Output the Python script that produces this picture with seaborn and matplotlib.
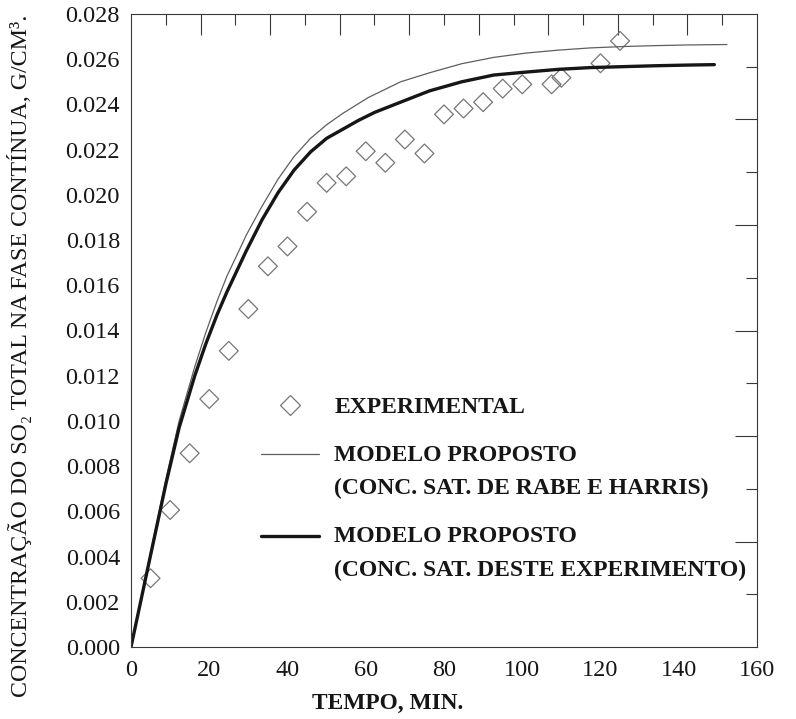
import numpy as np
import matplotlib
matplotlib.use("Agg")
import matplotlib.pyplot as plt
import seaborn as sns
from matplotlib.lines import Line2D
from matplotlib.ticker import MultipleLocator, FixedLocator, FormatStrFormatter

# Experimental points: time (min) and total SO2 concentration in the continuous phase (g/cm3)
tempo_exp = [5, 10, 15, 20, 25, 30, 35, 40, 45, 50, 55, 60, 65, 70, 75,
             80, 85, 90, 95, 100, 107.5, 110, 120, 125]
conc_exp = [0.00304, 0.00606, 0.00857, 0.01097, 0.0131, 0.01495, 0.01684,
            0.01772, 0.01925, 0.02053, 0.02082, 0.02193, 0.02142, 0.02245,
            0.02183, 0.02356, 0.02382, 0.0241, 0.0247, 0.02489, 0.02489,
            0.02518, 0.02582, 0.02681]

# Proposed model, saturation concentration of Rabe and Harris
tempo_rh = [0, 4.8, 8.9, 12.3, 16.3, 19.1, 22.0, 24.5, 27.8, 29.4, 33.5, 37.6,
            41.7, 45.9, 50.0, 54.1, 60.6, 68.9, 76.3, 84.5, 92.7, 100.9,
            109.1, 117.4, 125.6, 133.8, 142.0, 152.3]
conc_rh = [0, 0.0040, 0.0074, 0.0100, 0.0124, 0.0139, 0.0153, 0.0164, 0.0176,
           0.0182, 0.0195, 0.0207, 0.0217, 0.0225, 0.0231, 0.0236, 0.0243,
           0.0250, 0.0254, 0.02580, 0.02608, 0.02627, 0.02640, 0.02650,
           0.02656, 0.02660, 0.02663, 0.02665]

# Proposed model, saturation concentration from this experiment
tempo_ex = [0, 4.8, 8.9, 12.3, 16.3, 19.1, 22.0, 24.5, 29.4, 33.5, 37.6, 41.7,
            45.9, 50.0, 54.1, 58.2, 62.3, 68.9, 76.3, 84.5, 92.7, 100.9,
            109.1, 117.4, 125.6, 133.8, 142.0, 149.1]
conc_ex = [0, 0.0039, 0.0072, 0.0097, 0.0120, 0.0134, 0.0147, 0.0157, 0.0175,
           0.0189, 0.0201, 0.0211, 0.0219, 0.0225, 0.0229, 0.0233, 0.02365,
           0.0241, 0.0246, 0.0250, 0.0253, 0.02543, 0.02555, 0.02563,
           0.02567, 0.02571, 0.02574, 0.02576]

legend_labels = ["EXPERIMENTAL",
                 "MODELO PROPOSTO\n(CONC. SAT. DE RABE E HARRIS)",
                 "MODELO PROPOSTO\n(CONC. SAT. DESTE EXPERIMENTO)"]

sns.set_theme(style="white")
plt.rcParams["font.family"] = ["Liberation Serif", "DejaVu Serif"]

THIN = "#5e5e5e"
THICK = "#161616"
DIAM = "#767676"
FRAME = "#383838"
TEXT = "#161616"

fig = plt.figure(figsize=(7.96, 7.19), dpi=100)
ax = fig.add_axes([131 / 796, 72 / 719, 626 / 796, 633 / 719])

sns.lineplot(x=tempo_rh, y=conc_rh, ax=ax, color=THIN, lw=0.9)
sns.lineplot(x=tempo_ex, y=conc_ex, ax=ax, color=THICK, lw=2.4)
sns.scatterplot(x=tempo_exp, y=conc_exp, ax=ax, marker="D", s=92, color=DIAM)
pts = ax.collections[-1]
pts.set_facecolor("none")
pts.set_edgecolor(DIAM)
pts.set_linewidth(0.9)

ax.set_xlim(0, 160)
ax.set_ylim(0, 0.028)
ax.xaxis.set_major_locator(MultipleLocator(20))
ax.xaxis.set_minor_locator(MultipleLocator(10))
ax.yaxis.set_major_locator(MultipleLocator(0.002))
ax.yaxis.set_minor_locator(MultipleLocator(0.001))
ax.yaxis.set_major_formatter(FormatStrFormatter("%.3f"))
ax.tick_params(which="major", direction="in", length=14, width=0.8,
               color=FRAME, labelsize=17.5, labelcolor=TEXT, pad=8)
ax.tick_params(which="minor", direction="in", length=7, width=0.8, color=FRAME)
ax.tick_params(axis="x", which="major", pad=9)
for sp in ax.spines.values():
    sp.set_color(FRAME)
    sp.set_linewidth(0.8)

# Top and right frame ticks on their own divisions
top = ax.secondary_xaxis("top")
top.xaxis.set_major_locator(FixedLocator([160 * k / 18 for k in range(2, 18, 2)]))
top.xaxis.set_minor_locator(FixedLocator([160 * k / 18 for k in range(1, 18, 2)]))
top.tick_params(which="major", direction="in", length=15, width=0.8, color=FRAME, labeltop=False)
top.tick_params(which="minor", direction="in", length=8, width=0.8, color=FRAME)
top.spines["top"].set_visible(False)

right = ax.secondary_yaxis("right")
right.yaxis.set_major_locator(FixedLocator([0.028 * k / 12 for k in range(2, 12, 2)]))
right.yaxis.set_minor_locator(FixedLocator([0.028 * k / 12 for k in range(1, 12, 2)]))
right.tick_params(which="major", direction="in", length=16, width=0.8, color=FRAME, labelright=False)
right.tick_params(which="minor", direction="in", length=8, width=0.8, color=FRAME)
right.spines["right"].set_visible(False)

ax.set_xlabel("TEMPO, MIN.", fontsize=16.8, fontweight="bold", color=TEXT)
ax.set_ylabel("CONCENTRAÇÃO DO SO₂ TOTAL NA FASE CONTÍNUA, G/CM³.",
              fontsize=17.2, color=TEXT)
ax.xaxis.set_label_coords(0.41, -0.072)
ax.yaxis.set_label_coords(-0.158, 0.46)

handles = [Line2D([], [], ls="none", marker="D", markersize=9.7, mfc="none",
                  mec=DIAM, mew=0.9),
           Line2D([], [], color=THIN, lw=0.9),
           Line2D([], [], color=THICK, lw=2.4)]
leg = ax.legend(handles, legend_labels, loc="upper left",
                bbox_to_anchor=(0.208, 0.396), frameon=False,
                handlelength=2.45, handletextpad=0.65, labelspacing=1.15,
                borderpad=0, borderaxespad=0,
                prop={"weight": "bold", "size": 17})
for t in leg.get_texts():
    t.set_linespacing(1.75)
    t.set_color(TEXT)
# keep the line keys level with the first line of their two-line labels
for h in leg.legend_handles[1:]:
    h.set_ydata(np.asarray(h.get_ydata()) + 12.6)

fig.savefig("out.png", dpi=100)
